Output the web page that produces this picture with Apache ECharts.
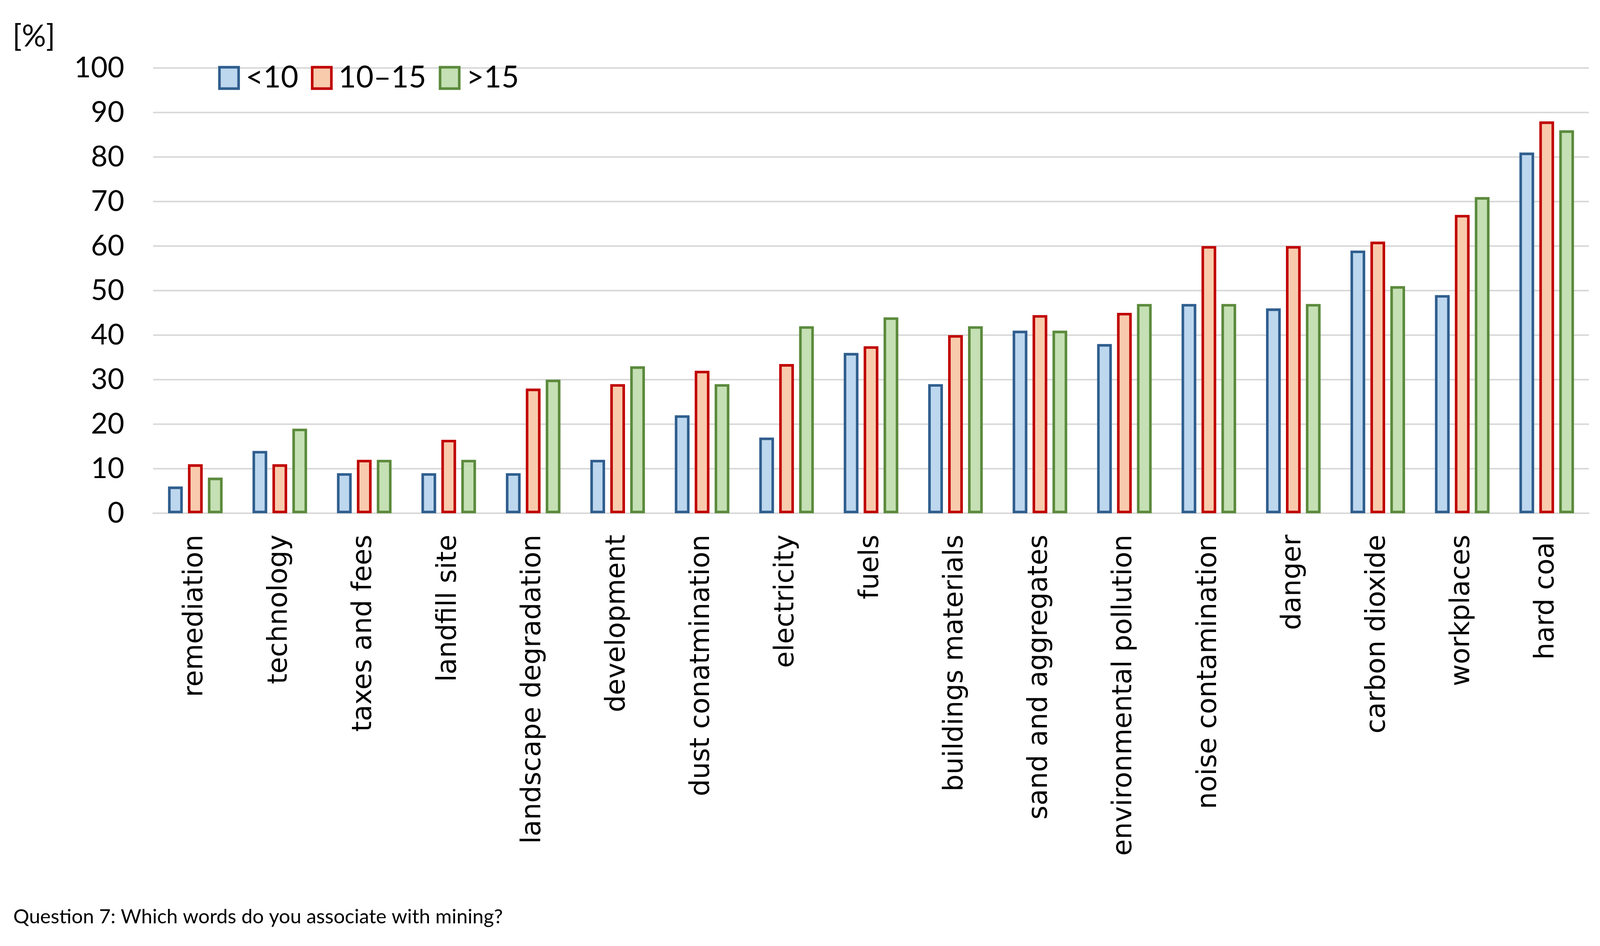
<!DOCTYPE html>
<html>
<head>
<meta charset="utf-8">
<script src="https://cdn.jsdelivr.net/npm/echarts@6/dist/echarts.min.js"></script>
<style>
html,body{margin:0;padding:0;background:#fff;overflow:hidden;}
#chart{width:100vw;height:100vh;}
</style>
</head>
<body>
<div id="chart"></div>
<script>
const categories = ["remediation","technology","taxes and fees","landfill site","landscape degradation","development","dust conatmination","electricity","fuels","buildings materials","sand and aggregates","environmental pollution","noise contamination","danger","carbon dioxide","workplaces","hard coal"];
const seriesNames = ["<10","10–15",">15"];
const under10 = [6,14,9,9,9,12,22,17,36,29,41,38,47,46,59,49,81];
const from10to15 = [11,11,12,16.5,28,29,32,33.5,37.5,40,44.5,45,60,60,61,67,88];
const over15 = [8,19,12,12,30,33,29,42,44,42,41,47,47,47,51,71,86];
const yTicks = {min:0, max:100, interval:10};

const fills = ["#BDD7EE","#F8CBAD","#C5E0B4"];
const borders = ["#2F5E8E","#C00000","#5B8A3C"];
const values = [under10, from10to15, over15];

const el = document.getElementById('chart');
const W = el.clientWidth || window.innerWidth;
const H = el.clientHeight || window.innerHeight;
const sx = W/4337, sy = H/2422, s = Math.min(sx, sy);

const chart = echarts.init(el);
chart.setOption({
  backgroundColor:'#fff',
  animation:false,
  grid:{left:415*sx,right:30*sx,top:174*sy,bottom:1108*sy,containLabel:false},
  legend:{
    left:586*sx, top:156*sy,
    itemWidth:52*s, itemHeight:58*s, itemGap:34*s,
    icon:'rect',
    itemStyle:{borderWidth:7*s},
    textStyle:{fontFamily:'Lato',fontSize:82*s,color:'#000',padding:[0,0,0,14*s]},
    data:seriesNames
  },
  xAxis:{
    type:'category', data:categories,
    axisLine:{show:true,lineStyle:{color:'#D9D9D9',width:4*s}},
    axisTick:{show:false},
    axisLabel:{rotate:90,interval:0,margin:58*s,fontFamily:'"DejaVu Sans", Verdana, sans-serif',fontSize:73*s,color:'#000'}
  },
  yAxis:{
    type:'value', min:yTicks.min, max:yTicks.max, interval:yTicks.interval,
    axisLine:{show:false}, axisTick:{show:false},
    axisLabel:{margin:78*s,fontFamily:'Lato',fontSize:78*s,color:'#000'},
    splitLine:{lineStyle:{color:'#D9D9D9',width:4*s}}
  },
  graphic:[
    {type:'text',left:34*sx,top:56*sy,style:{text:'[%]',fontFamily:'Lato',fontSize:82*s,fill:'#000'}},
    {type:'text',left:36*sx,top:2322*sy,style:{text:'Question 7: Which words do you associate with mining?',fontFamily:'Lato',fontSize:54*s,fill:'#000'}}
  ],
  series: seriesNames.map((n,i)=>({
    name:n, type:'bar', data:values[i],
    barWidth:40*sx, barGap:'35%',
    itemStyle:{color:fills[i],borderColor:borders[i],borderWidth:7*s}
  }))
});
</script>
</body>
</html>
